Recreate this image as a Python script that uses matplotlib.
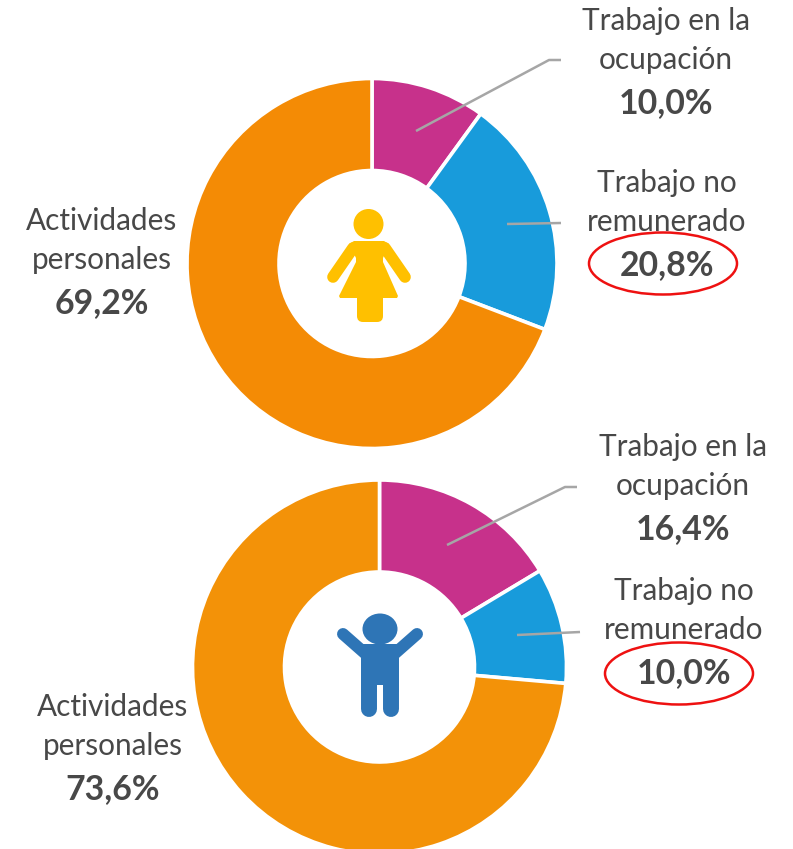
import matplotlib
matplotlib.use("Agg")
import matplotlib.pyplot as plt
from matplotlib.patches import Ellipse, Circle, Polygon, FancyBboxPatch
from matplotlib.lines import Line2D

W, H = 793, 849

slice_names = ["Trabajo en la\nocupación", "Trabajo no\nremunerado", "Actividades\npersonales"]
mujeres_vals = [10.0, 20.8, 69.2]
hombres_vals = [16.4, 10.0, 73.6]
mujeres_labels = ["10,0%", "20,8%", "69,2%"]
hombres_labels = ["16,4%", "10,0%", "73,6%"]
colors_top = ["#C7318B", "#189BDB", "#F48B05"]
colors_bottom = ["#C7318B", "#189BDB", "#F39208"]
TXT = "#484848"
FONT = "Lato"

fig = plt.figure(figsize=(W / 100, H / 100), dpi=100, facecolor="white")


def donut(cx, cy, r, inner, vals, colors):
    ax = fig.add_axes([(cx - r) / W, 1 - (cy + r) / H, 2 * r / W, 2 * r / H])
    ax.pie(vals, colors=colors, startangle=90, counterclock=False, radius=1,
           wedgeprops=dict(width=1 - inner / r, edgecolor="white", linewidth=2.6))
    ax.set_xlim(-1, 1)
    ax.set_ylim(-1, 1)
    ax.set_aspect("equal")
    ax.axis("off")


donut(372, 263.5, 185, 93, mujeres_vals, colors_top)
donut(379.5, 667, 187, 95, hombres_vals, colors_bottom)

ov = fig.add_axes([0, 0, 1, 1], facecolor="none")
ov.set_xlim(0, W)
ov.set_ylim(H, 0)
ov.axis("off")


def leader(xs, ys):
    ov.add_line(Line2D(xs, ys, color="#A6A6A6", lw=1.8, solid_capstyle="butt"))


leader([416, 549, 561], [131, 60, 60])
leader([507, 561], [224, 223])
leader([447, 565, 577], [545, 487, 487])
leader([517, 580], [635, 632])


def label(x, y, name, pct):
    n1, n2 = name.split("\n")
    ov.text(x, y + 1, n1, ha="center", va="center", fontsize=21.4, color=TXT, family=FONT)
    ov.text(x, y + 40, n2, ha="center", va="center", fontsize=21.4, color=TXT, family=FONT)
    ov.text(x, y + 83, pct, ha="center", va="center", fontsize=24.4, color=TXT, family=FONT, weight="bold")


label(666, 20, slice_names[0], mujeres_labels[0])
label(667, 182, slice_names[1], mujeres_labels[1])
label(102, 220, slice_names[2], mujeres_labels[2])
label(683, 446, slice_names[0], hombres_labels[0])
label(684, 590, slice_names[1], hombres_labels[1])
label(113, 706, slice_names[2], hombres_labels[2])

ov.add_patch(Ellipse((663, 263.5), 148, 62, fill=False, ec="#EE1111", lw=1.8))
ov.add_patch(Ellipse((679, 673.5), 148, 62, fill=False, ec="#EE1111", lw=1.8))

# Woman icon
Y = "#FFC000"
ov.add_patch(Circle((368.5, 224), 15, color=Y, lw=0))
ov.add_line(Line2D([353, 333], [248, 277], color=Y, lw=8.4, solid_capstyle="round"))
ov.add_line(Line2D([385, 405], [248, 277], color=Y, lw=8.4, solid_capstyle="round"))
ov.add_patch(Polygon([[354, 241], [384, 241], [389, 244], [383, 258], [383, 262], [398, 296], [397, 298],
                      [340, 298], [339, 296], [356, 262], [356, 258], [349, 244]],
                     closed=True, fc=Y, ec="none"))
ov.add_patch(FancyBboxPatch((363, 290), 14, 26, boxstyle="round,pad=6", fc=Y, ec="none"))

# Man icon
B = "#2E75B6"
ov.add_patch(Ellipse((380, 629), 35, 31, color=B, lw=0))
ov.add_line(Line2D([343, 368], [634, 656], color=B, lw=8.6, solid_capstyle="round"))
ov.add_line(Line2D([417, 392], [634, 656], color=B, lw=8.6, solid_capstyle="round"))
ov.add_patch(Polygon([[363, 644], [397, 644], [399, 657], [399, 692], [361, 692], [361, 657]],
                     closed=True, fc=B, ec="none"))
ov.add_line(Line2D([369, 369], [680, 709], color=B, lw=11.5, solid_capstyle="round"))
ov.add_line(Line2D([391, 391], [680, 709], color=B, lw=11.5, solid_capstyle="round"))
ov.add_patch(Polygon([[377, 685], [383, 685], [383, 693], [377, 693]], closed=True, fc="white", ec="none"))

fig.savefig("out.png", dpi=100, facecolor="white")
